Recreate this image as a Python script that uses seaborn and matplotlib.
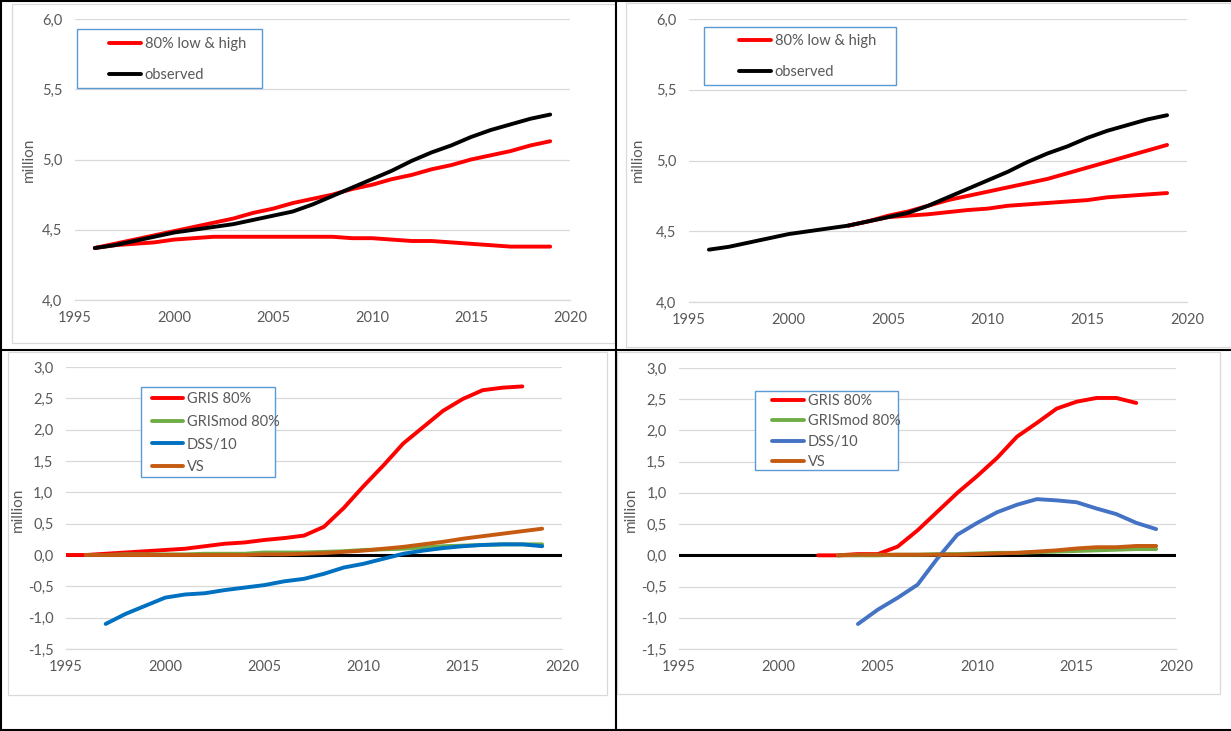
import matplotlib
matplotlib.use("Agg")
import matplotlib.pyplot as plt
import seaborn as sns
import pandas as pd
from matplotlib.ticker import FuncFormatter
from matplotlib.lines import Line2D
from matplotlib.patches import Rectangle

# ---------------- data ----------------
years_obs = list(range(1996, 2020))
observed = [4.37, 4.39, 4.42, 4.45, 4.48, 4.50, 4.52, 4.54, 4.57, 4.60, 4.63, 4.68,
            4.74, 4.80, 4.86, 4.92, 4.99, 5.05, 5.10, 5.16, 5.21, 5.25, 5.29, 5.32]

# top-left: 80% band from 1996
years_band1 = list(range(1996, 2020))
high1 = [4.37, 4.40, 4.43, 4.46, 4.49, 4.52, 4.55, 4.58, 4.62, 4.65, 4.69, 4.72,
         4.75, 4.79, 4.82, 4.86, 4.89, 4.93, 4.96, 5.00, 5.03, 5.06, 5.10, 5.13]
low1 = [4.37, 4.39, 4.40, 4.41, 4.43, 4.44, 4.45, 4.45, 4.45, 4.45, 4.45, 4.45,
        4.45, 4.44, 4.44, 4.43, 4.42, 4.42, 4.41, 4.40, 4.39, 4.38, 4.38, 4.38]

# top-right: 80% band from 2003
years_band2 = list(range(2003, 2020))
high2 = [4.54, 4.57, 4.61, 4.64, 4.68, 4.72, 4.75, 4.78, 4.81, 4.84, 4.87, 4.91,
         4.95, 4.99, 5.03, 5.07, 5.11]
low2 = [4.54, 4.57, 4.60, 4.61, 4.62, 4.635, 4.65, 4.66, 4.68, 4.69, 4.70, 4.71,
        4.72, 4.74, 4.75, 4.76, 4.77]

# bottom-left
years_gris3 = list(range(1995, 2019))
gris3 = [0.00, 0.00, 0.02, 0.04, 0.06, 0.08, 0.10, 0.14, 0.18, 0.20, 0.24, 0.27,
         0.31, 0.45, 0.75, 1.10, 1.43, 1.78, 2.04, 2.30, 2.49, 2.63, 2.67, 2.69]
years_mod3 = list(range(1996, 2020))
grismod3 = [0.00, 0.00, 0.01, 0.01, 0.01, 0.01, 0.02, 0.02, 0.02, 0.04, 0.04, 0.04,
            0.05, 0.06, 0.08, 0.09, 0.10, 0.12, 0.14, 0.15, 0.16, 0.17, 0.17, 0.17]
years_dss3 = list(range(1997, 2020))
dss3 = [-1.10, -0.94, -0.81, -0.68, -0.63, -0.61, -0.56, -0.52, -0.48, -0.42, -0.38,
        -0.30, -0.20, -0.14, -0.06, 0.02, 0.07, 0.11, 0.14, 0.16, 0.17, 0.17, 0.14]
years_vs3 = list(range(1996, 2020))
vs3 = [0.00, 0.00, 0.00, 0.00, 0.00, 0.00, 0.00, 0.00, 0.00, 0.01, 0.01, 0.02,
       0.03, 0.05, 0.07, 0.10, 0.13, 0.17, 0.21, 0.26, 0.30, 0.34, 0.38, 0.42]

# bottom-right
years_gris4 = list(range(2002, 2019))
gris4 = [0.00, 0.00, 0.02, 0.02, 0.14, 0.40, 0.70, 1.00, 1.27, 1.56, 1.90, 2.12,
         2.35, 2.46, 2.52, 2.52, 2.44]
years_mod4 = list(range(2003, 2020))
grismod4 = [0.00, 0.00, 0.00, 0.01, 0.01, 0.02, 0.02, 0.03, 0.04, 0.04, 0.05, 0.06,
            0.07, 0.08, 0.09, 0.10, 0.10]
years_dss4 = list(range(2004, 2020))
dss4 = [-1.10, -0.87, -0.68, -0.47, -0.05, 0.33, 0.52, 0.69, 0.81, 0.90, 0.88, 0.85,
        0.75, 0.66, 0.52, 0.42]
years_vs4 = list(range(2003, 2020))
vs4 = [0.00, 0.01, 0.01, 0.01, 0.01, 0.01, 0.01, 0.02, 0.03, 0.04, 0.06, 0.08,
       0.11, 0.13, 0.13, 0.15, 0.15]

labels_top = ["80% low & high", "observed"]
labels_bottom = ["GRIS 80%", "GRISmod 80%", "DSS/10", "VS"]
x_ticks = [1995, 2000, 2005, 2010, 2015, 2020]

# ---------------- style ----------------
sns.set_theme(style="white")
plt.rcParams["font.family"] = ["Lato", "DejaVu Sans"]

W, H = 1231, 731
FS = 10.5
TXT = "#595959"
GRID = "#D9D9D9"
LW = 2.8

fig = plt.figure(figsize=(W / 100, H / 100), dpi=100)
fig.patch.set_facecolor("white")


def fig_rect(x0, y0, x1, y1, **kw):
    return Rectangle((x0 / W, 1 - y1 / H), (x1 - x0) / W, (y1 - y0) / H,
                     transform=fig.transFigure, **kw)


# chart-area frames (light gray)
for (x0, y0, x1, y1) in [(12, 4, 615, 343), (626, 3, 1240, 347),
                         (8, 352, 607, 695), (617, 352, 1220, 694)]:
    fig.add_artist(fig_rect(x0, y0, x1, y1, fill=False, edgecolor=GRID, lw=0.9))

# table borders (black)
for xs, ys in [((0, W), (1, 1)), ((1, 1), (0, H)), ((616, 616), (0, H)),
               ((0, W), (350, 350)), ((0, W), (730, 730))]:
    fig.add_artist(Line2D([x / W for x in xs], [1 - y / H for y in ys],
                          transform=fig.transFigure, color="black", lw=1.5))

fmt = FuncFormatter(lambda v, p: f"{v:.1f}".replace(".", ","))


def make_ax(x0, x1, y0, y1, ylim, step, ylab_xy):
    ax = fig.add_axes([x0 / W, 1 - y1 / H, (x1 - x0) / W, (y1 - y0) / H])
    ax.set_facecolor("none")
    ax.set_xlim(1995, 2020)
    ax.set_ylim(*ylim)
    ax.set_xticks(x_ticks)
    ax.set_xticks(list(range(1995, 2021)), minor=True)
    n = int(round((ylim[1] - ylim[0]) / step))
    ax.set_yticks([ylim[0] + i * step for i in range(n + 1)])
    ax.yaxis.set_major_formatter(fmt)
    for s in ["left", "right", "top"]:
        ax.spines[s].set_visible(False)
    ax.spines["bottom"].set_color(GRID)
    ax.spines["bottom"].set_linewidth(0.9)
    ax.tick_params(axis="x", which="both", direction="in", length=5, width=0.9,
                   color=GRID, labelcolor=TXT, labelsize=FS, pad=8)
    ax.tick_params(axis="y", length=0, labelcolor=TXT, labelsize=FS, pad=9)
    ax.yaxis.grid(True, color=GRID, lw=0.9)
    ax.xaxis.grid(False)
    ax.set_axisbelow(True)
    lx, ly = ylab_xy
    return ax, (lx - x0) / (x1 - x0), (y1 - ly) / (y1 - y0)


def line(ax, years, vals, color, z=3):
    df = pd.DataFrame({"year": years, "value": vals})
    sns.lineplot(data=df, x="year", y="value", color=color, lw=LW, ax=ax,
                 zorder=z, solid_capstyle="round", solid_joinstyle="round")


def finish(ax, lab_fx, lab_fy, handles, labels, box, anchor, hl, spacing):
    ax.set_xlabel("")
    ax.set_ylabel("million", fontsize=FS + 0.5, color=TXT, va="center")
    ax.yaxis.set_label_coords(lab_fx, lab_fy)
    bx0, by0, bx1, by1 = box
    ax.add_artist(fig_rect(bx0, by0, bx1, by1, facecolor="white",
                           edgecolor="#5B9BD5", lw=1.0, zorder=4))
    leg = ax.legend(handles, labels, loc="upper left",
                    bbox_to_anchor=(anchor[0] / W, 1 - anchor[1] / H),
                    bbox_transform=fig.transFigure, frameon=False, borderpad=0,
                    borderaxespad=0, handlelength=hl, handletextpad=0.25,
                    labelspacing=spacing, fontsize=FS, labelcolor=TXT)
    leg.set_zorder(5)


# ---- top-left ----
ax1, fx, fy = make_ax(75, 570, 19, 300, (4.0, 6.0), 0.5, (29, 160))
line(ax1, years_band1, high1, "#FF0000")
line(ax1, years_band1, low1, "#FF0000")
line(ax1, years_obs, observed, "black", z=3.5)
h_top = [Line2D([], [], color="#FF0000", lw=LW), Line2D([], [], color="black", lw=LW)]
finish(ax1, fx, fy, h_top, labels_top, (77, 29, 262, 88), (109, 37), 2.2, 1.18)

# ---- top-right ----
ax2, fx, fy = make_ax(689, 1187, 19, 302, (4.0, 6.0), 0.5, (638, 160))
line(ax2, years_band2, high2, "#FF0000")
line(ax2, years_band2, low2, "#FF0000")
line(ax2, years_obs, observed, "black", z=3.5)
finish(ax2, fx, fy, h_top, labels_top, (704, 27, 896, 85), (739, 34), 2.2, 1.18)

# ---- bottom-left ----
c3 = ["#FF0000", "#70AD47", "#0070C0", "#C55A11"]
ax3, fx, fy = make_ax(66, 562, 367, 649, (-1.5, 3.0), 0.5, (18, 510))
ax3.axhline(0, color="black", lw=2.2, zorder=2.5)
line(ax3, years_gris3, gris3, c3[0])
line(ax3, years_mod3, grismod3, c3[1])
line(ax3, years_dss3, dss3, c3[2])
line(ax3, years_vs3, vs3, c3[3])
h3 = [Line2D([], [], color=c, lw=LW) for c in c3]
finish(ax3, fx, fy, h3, labels_bottom, (141, 387, 275, 477), (152, 392), 2.15, 0.6)

# ---- bottom-right ----
c4 = ["#FF0000", "#70AD47", "#4472C4", "#C55A11"]
ax4, fx, fy = make_ax(679, 1176, 368, 649, (-1.5, 3.0), 0.5, (631, 510))
ax4.axhline(0, color="black", lw=2.2, zorder=2.5)
line(ax4, years_gris4, gris4, c4[0])
line(ax4, years_mod4, grismod4, c4[1])
line(ax4, years_dss4, dss4, c4[2])
line(ax4, years_vs4, vs4, c4[3])
h4 = [Line2D([], [], color=c, lw=LW) for c in c4]
finish(ax4, fx, fy, h4, labels_bottom, (755, 391, 898, 470), (772, 394), 2.2, 0.44)

fig.savefig("out.png", dpi=100, facecolor="white")
